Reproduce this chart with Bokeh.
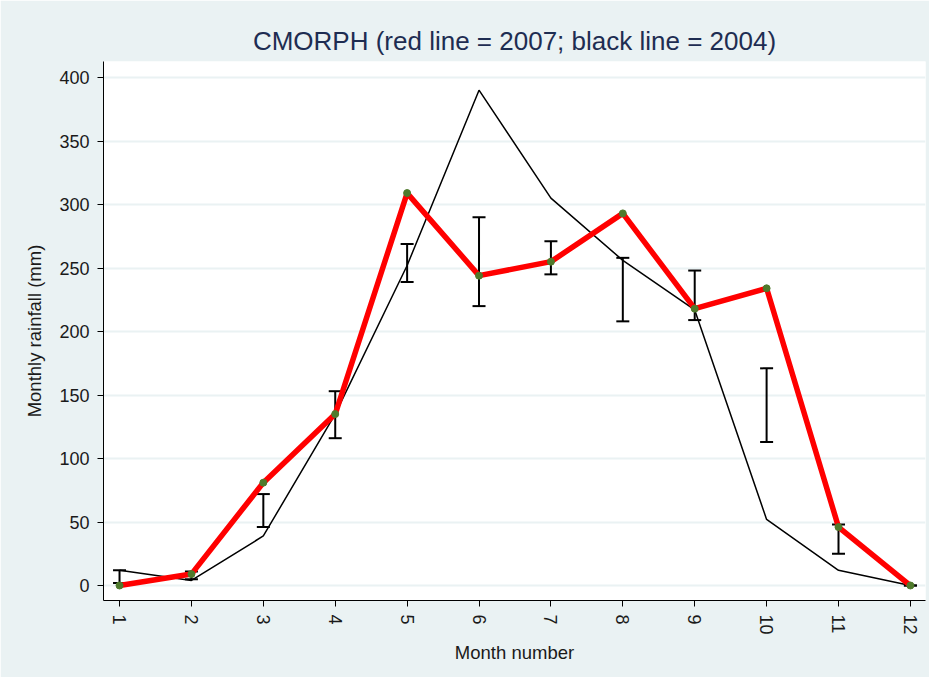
from bokeh.plotting import figure
from bokeh.models import ColumnDataSource, Whisker, TeeHead, Range1d, FixedTicker
from bokeh.embed import file_html
from bokeh.resources import INLINE

months = [1, 2, 3, 4, 5, 6, 7, 8, 9, 10, 11, 12]
rain_2007 = [0, 9, 81, 135, 309, 244, 255, 293, 218, 234, 46, 0]
rain_2004 = [12, 4, 39, 135, 252, 390, 305, 256, 217, 52, 12, 0]
err_low = [2, 5, 46, 116, 239, 220, 245, 208, 209, 113, 25, 0]
err_high = [12, 11, 72, 153, 269, 290, 271, 258, 248, 171, 48, 0]
y_ticks = [0, 50, 100, 150, 200, 250, 300, 350, 400]

BG = "#EAF2F3"
FONT = "Liberation Sans"

p = figure(width=929, height=677, output_backend="svg", toolbar_location=None,
           x_range=Range1d(0.777, 12.21), y_range=Range1d(-11.8, 412.6),
           min_border_left=103, min_border_right=4, min_border_top=61, min_border_bottom=77)

p.background_fill_color = "white"
p.border_fill_color = BG
p.outline_line_color = None

p.title.text = "CMORPH (red line = 2007; black line = 2004)"
p.title.align = "center"
p.title.text_font = FONT
p.title.text_font_size = "26px"
p.title.text_font_style = "normal"
p.title.text_color = "#1E2D52"
p.title.standoff = 12

p.xgrid.grid_line_color = None
p.ygrid.grid_line_color = BG
p.ygrid.grid_line_width = 2
p.ygrid.ticker = FixedTicker(ticks=y_ticks)

p.yaxis.ticker = FixedTicker(ticks=y_ticks)
p.xaxis.ticker = FixedTicker(ticks=months)
p.xaxis.major_label_orientation = "vertical"
p.xaxis.minor_tick_line_color = None
p.yaxis.minor_tick_line_color = None
for ax in (p.xaxis, p.yaxis):
    ax.axis_line_color = "black"
    ax.axis_line_width = 1
    ax.major_tick_line_color = "black"
    ax.major_tick_out = 6
    ax.major_tick_in = 0
    ax.major_label_standoff = 8
    ax.major_label_text_font = FONT
    ax.major_label_text_font_size = "18px"
    ax.major_label_text_color = "#1a1a1a"
    ax.axis_label_text_font = FONT
    ax.axis_label_text_font_size = "18.5px"
    ax.axis_label_text_font_style = "normal"
    ax.axis_label_text_color = "#1a1a1a"
p.yaxis.axis_label_standoff = 11
p.xaxis.axis_label_standoff = 4
p.xaxis.axis_label = "Month number"
p.yaxis.axis_label = "Monthly rainfall (mm)"

src = ColumnDataSource(dict(x=months, r07=rain_2007, r04=rain_2004, lo=err_low, hi=err_high))

w = Whisker(base="x", upper="hi", lower="lo", source=src, dimension="height",
            line_color="black", line_width=2, level="underlay",
            upper_head=TeeHead(size=13, line_width=2, line_color="black"),
            lower_head=TeeHead(size=13, line_width=2, line_color="black"))
p.add_layout(w)

p.line("x", "r04", source=src, line_color="black", line_width=1.5)
p.line("x", "r07", source=src, line_color="#FF0000", line_width=5.5)
p.scatter("x", "r07", source=src, size=7, fill_color="#4F7A2C", line_color="#4F7A2C")

open("out.html", "w").write(file_html(p, INLINE))
